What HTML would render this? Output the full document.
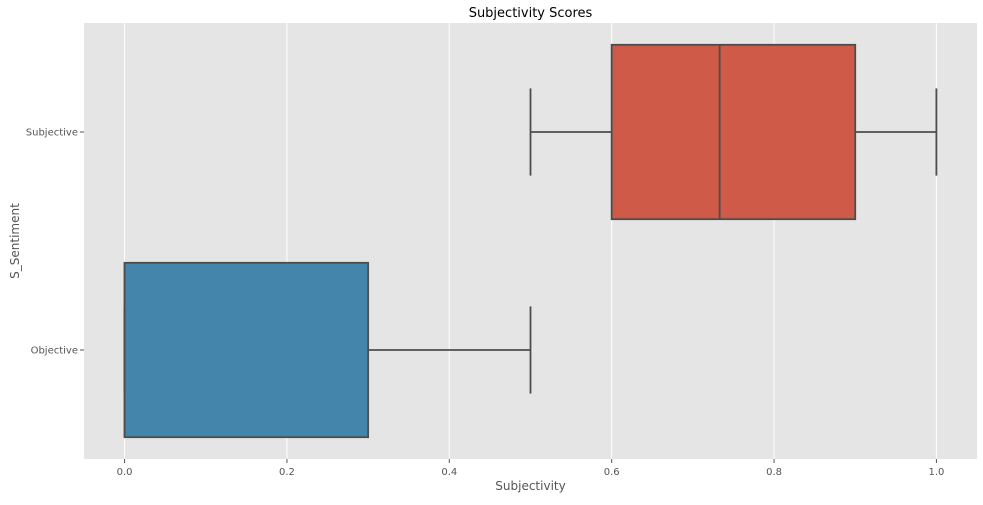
<!DOCTYPE html>
<html><head><meta charset="utf-8"><style>
body{margin:0;background:#fff;width:983px;height:500px;overflow:hidden}
svg text{font-family:"DejaVu Sans","Liberation Sans",sans-serif}
</style></head><body>
<svg id="chart" width="983" height="500"></svg>
<script>
const categories=["Subjective","Objective"];
const q1s=[0.6,0.0];
const medians=[0.733,0.0];
const q3s=[0.9,0.3];
const whiskerLow=[0.5,0.0];
const whiskerHigh=[1.0,0.5];
const colors=["#cf5a48","#4485ab"];
const xTicks=[0,0.2,0.4,0.6,0.8,1.0];
const xTickLabels=["0.0","0.2","0.4","0.6","0.8","1.0"];

const L=84,R=977,T=23,B=459;
const xmin=-0.05,xmax=1.05;
const X=v=>L+(v-xmin)/(xmax-xmin)*(R-L);
const Y=i=>T+(i+0.5)/categories.length*(B-T);
const band=(B-T)/categories.length;
const svg=document.getElementById('chart');
const NS="http://www.w3.org/2000/svg";
function mk(tag,attrs,parent){const e=document.createElementNS(NS,tag);for(const k in attrs)e.setAttribute(k,attrs[k]);(parent||svg).appendChild(e);return e;}

const bg=mk('rect',{x:L,y:T,width:R-L,height:B-T,fill:'#e5e5e5'});


xTicks.forEach((t,i)=>{
  const g=mk('line',{x1:X(t),x2:X(t),y1:T,y2:B,stroke:'#fff','stroke-width':1});
  
  
  mk('line',{x1:X(t),x2:X(t),y1:B,y2:B+4,stroke:'#555'});
  const tx=mk('text',{x:X(t),y:B+16,'text-anchor':'middle','font-size':10,fill:'#555'});
  tx.textContent=xTickLabels[i];
  
  
});
categories.forEach((c,i)=>{
  const y=Y(i);
  mk('line',{x1:L-4,x2:L,y1:y,y2:y,stroke:'#555'});
  const tx=mk('text',{x:L-6,y:y+3.5,'text-anchor':'end','font-size':10,fill:'#555'});
  tx.textContent=c;
  
  
  const h=band*0.8, st='#4d4d4d';
  const w1=mk('line',{x1:X(whiskerLow[i]),x2:X(q1s[i]),y1:y,y2:y,stroke:st,'stroke-width':1.8});
  
  
  const w2=mk('line',{x1:X(q3s[i]),x2:X(whiskerHigh[i]),y1:y,y2:y,stroke:st,'stroke-width':1.8});
  
  
  [whiskerLow[i],whiskerHigh[i]].forEach(v=>{
    const cap=mk('line',{x1:X(v),x2:X(v),y1:y-h/4,y2:y+h/4,stroke:st,'stroke-width':1.8});
    
    
  });
  const box=mk('rect',{x:X(q1s[i]),y:y-h/2,width:X(q3s[i])-X(q1s[i]),height:h,fill:colors[i],stroke:st,'stroke-width':1.8});
  
  
  const md=mk('line',{x1:X(medians[i]),x2:X(medians[i]),y1:y-h/2,y2:y+h/2,stroke:st,'stroke-width':1.8});
  
  
});
const title=mk('text',{x:(L+R)/2,y:17,'text-anchor':'middle','font-size':13,fill:'#000'});
title.textContent='Subjectivity Scores';


const xt=mk('text',{x:(L+R)/2,y:490,'text-anchor':'middle','font-size':12,fill:'#555'});
xt.textContent='Subjectivity';


const yt=mk('text',{x:19,y:(T+B)/2,'text-anchor':'middle','font-size':12,fill:'#555',transform:`rotate(-90 19 ${(T+B)/2})`});
yt.textContent='S_Sentiment';


</script>
</body></html>
